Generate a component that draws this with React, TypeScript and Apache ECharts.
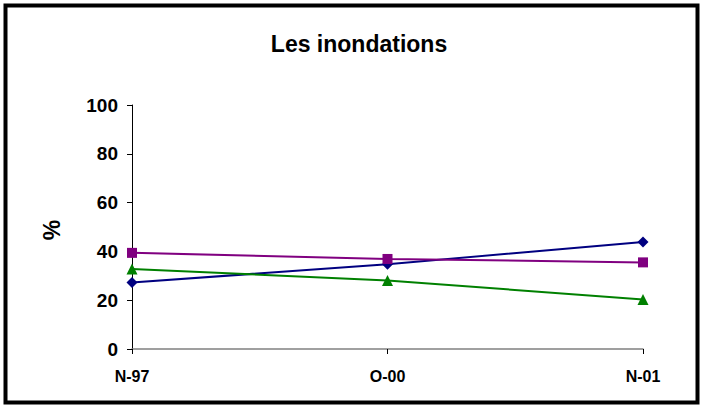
import React, { useEffect, useRef } from "react";
import * as echarts from "echarts";

const categories = ["N-97", "O-00", "N-01"];
const navySeries = [27.3, 34.7, 43.9];
const purpleSeries = [39.4, 36.9, 35.5];
const greenSeries = [32.8, 28.1, 20.3];
const yMin = 0;
const yMax = 100;
const yInterval = 20;
const titleText = "Les inondations";
const yAxisName = "%";

export default function App() {
  const ref = useRef<HTMLDivElement>(null);
  useEffect(() => {
    if (!ref.current) return;
    const chart = echarts.init(ref.current, undefined, { renderer: "svg" });
    const font = "'Liberation Sans', Arial, sans-serif";
    chart.setOption({
      animation: false,
      backgroundColor: "#ffffff",
      title: {
        text: titleText,
        left: 354,
        textAlign: "center",
        top: 27,
        textStyle: { fontFamily: font, fontSize: 23, fontWeight: "bold", color: "#000" },
      },
      graphic: [
        {
          type: "rect",
          shape: { x: 5.5, y: 5.5, width: 692, height: 397 },
          style: { fill: "none", stroke: "#000", lineWidth: 4 },
          silent: true,
        },
        {
          type: "text",
          x: 52,
          y: 230,
          rotation: Math.PI / 2,
          style: {
            text: yAxisName,
            fontFamily: font,
            fontSize: 23,
            fontWeight: "bold",
            fill: "#000",
            align: "center",
            verticalAlign: "middle",
          },
        },
      ],
      grid: { left: 132, right: 61, top: 105, bottom: 60, containLabel: false },
      xAxis: {
        type: "category",
        data: categories,
        boundaryGap: false,
        axisLine: { lineStyle: { color: "#808080", width: 1.5 } },
        axisTick: { show: true, length: 5, alignWithLabel: true, lineStyle: { color: "#000" } },
        axisLabel: {
          fontFamily: font,
          fontSize: 16,
          fontWeight: "bold",
          color: "#000",
          margin: 19,
        },
        splitLine: { show: false },
      },
      yAxis: {
        type: "value",
        min: yMin,
        max: yMax,
        interval: yInterval,
        axisLine: { show: true, lineStyle: { color: "#000", width: 1 } },
        axisTick: { show: true, length: 5, inside: false, lineStyle: { color: "#000" } },
        axisLabel: {
          fontFamily: font,
          fontSize: 19,
          fontWeight: "bold",
          color: "#000",
          margin: 14,
        },
        splitLine: { show: false },
      },
      series: [
        {
          type: "line",
          data: navySeries,
          symbol: "diamond",
          symbolSize: 11,
          itemStyle: { color: "#000080" },
          lineStyle: { color: "#000080", width: 2 },
        },
        {
          type: "line",
          data: purpleSeries,
          symbol: "rect",
          symbolSize: 10,
          itemStyle: { color: "#800080" },
          lineStyle: { color: "#800080", width: 2 },
        },
        {
          type: "line",
          data: greenSeries,
          symbol: "triangle",
          symbolSize: 11,
          itemStyle: { color: "#008000" },
          lineStyle: { color: "#008000", width: 2 },
        },
      ],
    });
    return () => chart.dispose();
  }, []);
  return (
    <div
      ref={ref}
      style={{ position: "fixed", left: 0, top: 0, width: 704, height: 409 }}
    />
  );
}
